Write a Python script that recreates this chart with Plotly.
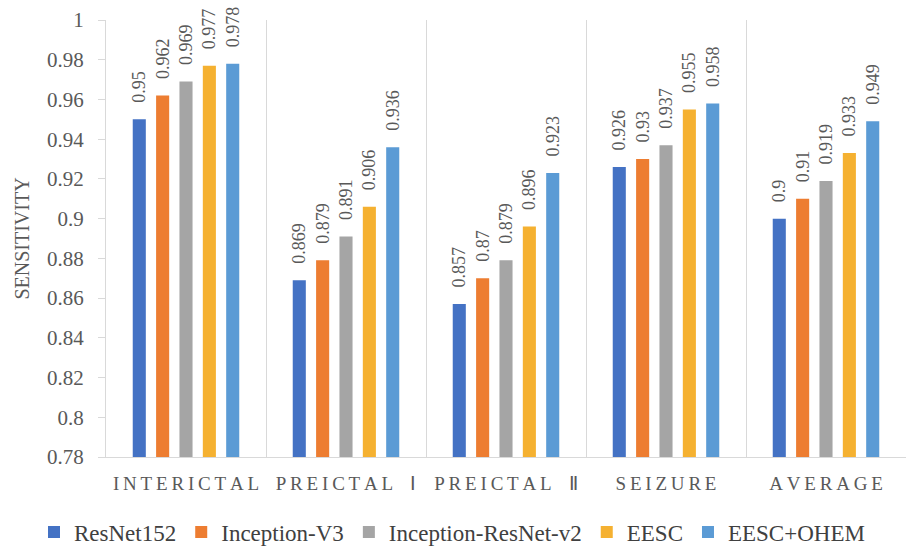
import plotly.graph_objects as go

categories = ["INTERICTAL", "PREICTAL Ⅰ", "PREICTAL Ⅱ", "SEIZURE", "AVERAGE"]
series_names = ["ResNet152", "Inception-V3", "Inception-ResNet-v2", "EESC", "EESC+OHEM"]
resnet152 = [0.95, 0.869, 0.857, 0.926, 0.9]
inception_v3 = [0.962, 0.879, 0.87, 0.93, 0.91]
inception_resnet_v2 = [0.969, 0.891, 0.879, 0.937, 0.919]
eesc = [0.977, 0.906, 0.896, 0.955, 0.933]
eesc_ohem = [0.978, 0.936, 0.923, 0.958, 0.949]
y_ticks = [0.78, 0.8, 0.82, 0.84, 0.86, 0.88, 0.9, 0.92, 0.94, 0.96, 0.98, 1]

colors = ["#4472C4", "#ED7D31", "#A5A5A5", "#F5B131", "#5B9BD5"]
values = [resnet152, inception_v3, inception_resnet_v2, eesc, eesc_ohem]

SERIF = "Liberation Serif, Times New Roman, serif"
GRAY = "#595959"
LINE = "#D9D9D9"

fig = go.Figure()
for name, vals, col in zip(series_names, values, colors):
    fig.add_trace(go.Bar(
        name=name,
        x=categories,
        y=vals,
        marker=dict(color=col, line=dict(width=0)),
        text=["\u2002\u00a0" + f"{v:g}" for v in vals],
        textposition="outside",
        textangle=-90,
        constraintext="none",
        cliponaxis=False,
        textfont=dict(family=SERIF, size=18, color=GRAY),
    ))

ticktext_x = ["\u2009".join(list(c.replace(" ", "\u2002"))) for c in categories]

fig.update_layout(
    width=906, height=546,
    margin=dict(l=106, r=0, t=20, b=89, autoexpand=False),
    paper_bgcolor="white", plot_bgcolor="white",
    barmode="group", bargap=0.27, bargroupgap=0.44,
    font=dict(family=SERIF, color=GRAY),
    showlegend=True,
    legend=dict(orientation="h", xref="paper", yref="paper",
                x=-0.09, xanchor="left", y=-0.172, yanchor="middle",
                font=dict(family=SERIF, size=23, color="#404040"),
                itemwidth=30, tracegroupgap=0),
)
fig.update_xaxes(
    type="category",
    tickvals=categories, ticktext=ticktext_x,
    tickson="boundaries", ticks="", showgrid=True, gridcolor=LINE, gridwidth=1,
    showline=True, linecolor=LINE, linewidth=1,
    tickfont=dict(family=SERIF, size=19, color=GRAY),
    ticklabelstandoff=9,
    zeroline=False, automargin=False,
)
fig.update_yaxes(
    range=[0.78, 1], tickvals=y_ticks, ticktext=[f"{v:g}" for v in y_ticks],
    showgrid=False, zeroline=False,
    showline=True, linecolor=LINE, linewidth=1,
    ticks="outside", ticklen=7, tickcolor=LINE,
    tickfont=dict(family=SERIF, size=21, color=GRAY),
    ticklabelstandoff=10,
    title=dict(text="SENSITIVITY", font=dict(family=SERIF, size=20, color=GRAY), standoff=12),
    automargin=False,
)

fig.write_html("out.html", config={"displayModeBar": False},
               post_script="document.body.style.margin='0px';")
